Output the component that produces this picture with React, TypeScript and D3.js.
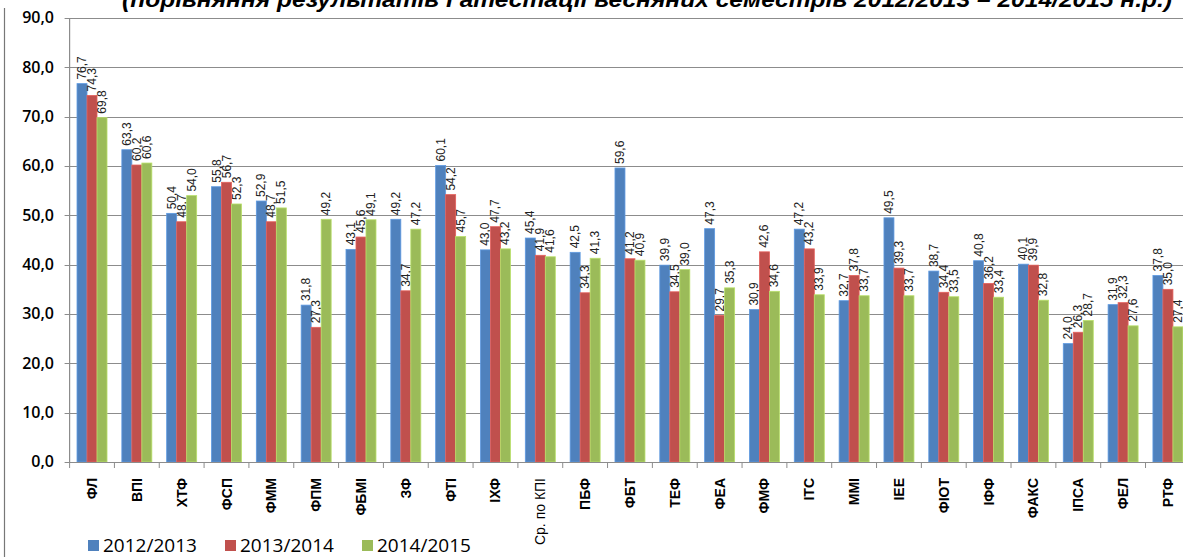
import { useEffect, useRef } from "react";
import * as d3 from "d3";

const categories = [
  "ФЛ", "ВПІ", "ХТФ", "ФСП", "ФММ", "ФПМ", "ФБМІ", "ЗФ", "ФТІ", "ІХФ",
  "Ср. по КПІ", "ПБФ", "ФБТ", "ТЕФ", "ФЕА", "ФМФ", "ІТС", "ММІ", "ІЕЕ",
  "ФІОТ", "ІФФ", "ФАКС", "ІПСА", "ФЕЛ", "РТФ",
];
const y2013 = [76.7, 63.3, 50.4, 55.8, 52.9, 31.8, 43.1, 49.2, 60.1, 43.0, 45.4, 42.5, 59.6, 39.9, 47.3, 30.9, 47.2, 32.7, 49.5, 38.7, 40.8, 40.1, 24.0, 31.9, 37.8];
const y2014 = [74.3, 60.2, 48.7, 56.7, 48.7, 27.3, 45.6, 34.7, 54.2, 47.7, 41.9, 34.3, 41.2, 34.5, 29.7, 42.6, 43.2, 37.8, 39.3, 34.4, 36.2, 39.9, 26.3, 32.3, 35.0];
const y2015 = [69.8, 60.6, 54.0, 52.3, 51.5, 49.2, 49.1, 47.2, 45.7, 43.2, 41.6, 41.3, 40.9, 39.0, 35.3, 34.6, 33.9, 33.7, 33.7, 33.5, 33.4, 32.8, 28.7, 27.6, 27.4];
const seriesNames = ["2012/2013", "2013/2014", "2014/2015"];
const colors = ["#4f81bd", "#c0504d", "#9bbb59"];
const yTicks = [0, 10, 20, 30, 40, 50, 60, 70, 80, 90];
const title = "(порівняння результатів І атестації весняних семестрів 2012/2013 – 2014/2015 н.р.)";

const W = 1183;
const H = 557;
const fmt = (v: number) => v.toFixed(1).replace(".", ",");

export default function App() {
  const ref = useRef<SVGSVGElement | null>(null);

  useEffect(() => {
    const svg = d3.select(ref.current!);
    svg.selectAll("*").remove();

    const left = 69.6;
    const x = d3.scaleBand<string>().domain(categories).range([left, left + 25 * 44.83]);
    const y = d3.scaleLinear().domain([0, 90]).range([462, 18]);
    const series = [y2013, y2014, y2015];
    const barW = 10;

    // outer border of the chart area
    svg.append("line").attr("x1", 4.5).attr("x2", 4.5).attr("y1", 8).attr("y2", H)
      .attr("stroke", "#777").attr("stroke-width", 1.2);

    // title (cut at the top, like the source)
    svg.append("text")
      .attr("x", 122).attr("y", 7)
      .attr("textLength", 1050).attr("lengthAdjust", "spacingAndGlyphs")
      .style("font", "italic bold 22px 'Liberation Sans Narrow', 'Liberation Sans', Arial, sans-serif")
      .style("fill", "#000")
      .text(title);

    // gridlines
    svg.append("g").selectAll("line").data(yTicks.filter((t) => t > 0)).join("line")
      .attr("x1", left).attr("x2", W)
      .attr("y1", (d) => Math.round(y(d)) + 0.5).attr("y2", (d) => Math.round(y(d)) + 0.5)
      .attr("stroke", "#8c8c8c").attr("stroke-width", 1.2);

    // y axis
    const ya = svg.append("g");
    ya.append("line").attr("x1", left).attr("x2", left).attr("y1", y(90)).attr("y2", y(0))
      .attr("stroke", "#8c8c8c").attr("stroke-width", 1.2);
    ya.selectAll("line.t").data(yTicks).join("line").attr("class", "t")
      .attr("x1", left - 5).attr("x2", left)
      .attr("y1", (d) => Math.round(y(d)) + 0.5).attr("y2", (d) => Math.round(y(d)) + 0.5)
      .attr("stroke", "#8c8c8c");
    ya.selectAll("text").data(yTicks).join("text")
      .attr("x", 54).attr("y", (d) => y(d) + 1)
      .attr("text-anchor", "end").attr("dominant-baseline", "middle")
      .style("font", "600 16px 'Open Sans', 'Liberation Sans', sans-serif")
      .style("fill", "#000")
      .text((d) => fmt(d));

    // bars + value labels
    series.forEach((vals, si) => {
      const g = svg.append("g");
      g.selectAll("rect").data(categories).join("rect")
        .attr("x", (c) => x(c)! + x.bandwidth() / 2 - 1.5 * barW + si * barW)
        .attr("width", barW)
        .attr("y", (_, i) => y(vals[i]))
        .attr("height", (_, i) => y(0) - y(vals[i]))
        .attr("fill", colors[si])
        .attr("stroke", d3.color(colors[si])!.brighter(0.5).toString())
        .attr("stroke-width", 0.8);
      g.selectAll("text").data(categories).join("text")
        .attr("transform", (c, i) => {
          const cx = x(c)! + x.bandwidth() / 2 - 1.5 * barW + si * barW + barW / 2;
          return `translate(${cx + 4},${y(vals[i]) - 4}) rotate(-90)`;
        })
        .style("font", "12px 'Liberation Sans', Arial, sans-serif")
        .style("fill", "#222")
        .text((_, i) => fmt(vals[i]));
    });

    // x axis
    const xa = svg.append("g");
    xa.append("line").attr("x1", left).attr("x2", W).attr("y1", 462.5).attr("y2", 462.5)
      .attr("stroke", "#8c8c8c").attr("stroke-width", 1.2);
    xa.selectAll("line.t").data(categories).join("line").attr("class", "t")
      .attr("x1", (c) => x(c)!).attr("x2", (c) => x(c)!)
      .attr("y1", 462).attr("y2", 468)
      .attr("stroke", "#8c8c8c");
    xa.selectAll("text").data(categories).join("text")
      .attr("transform", (c) => `translate(${x(c)! + x.bandwidth() / 2 + 5},478) rotate(-90)`)
      .attr("text-anchor", "end")
      .style("font", (c) => c.startsWith("Ср") ? "14px 'Liberation Sans', Arial, sans-serif" : "bold 14px 'Liberation Sans', Arial, sans-serif")
      .style("fill", "#000")
      .text((c) => c);

    // legend
    const legX = [88, 225, 362];
    const lg = svg.append("g");
    seriesNames.forEach((n, i) => {
      lg.append("rect").attr("x", legX[i]).attr("y", 540).attr("width", 11).attr("height", 11)
        .attr("fill", colors[i]);
      lg.append("text").attr("x", legX[i] + 15).attr("y", 552)
        .style("font", "19px 'Open Sans', 'Liberation Sans', sans-serif")
        .style("fill", "#000")
        .text(n);
    });
  }, []);

  return (
    <>
      <style>{`body{margin:0;overflow:hidden}`}</style>
      <svg ref={ref} width={W} height={H} style={{ display: "block", background: "#fff" }} />
    </>
  );
}
